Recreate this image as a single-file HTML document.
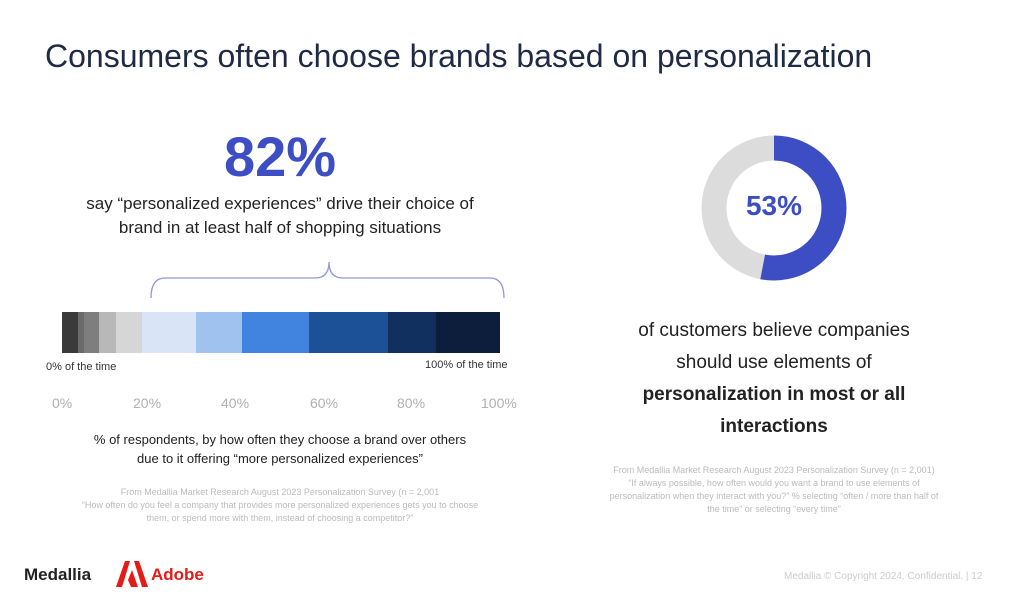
<!DOCTYPE html>
<html><head><meta charset="utf-8"><style>
body{margin:0;width:1024px;height:597px;background:#fff;font-family:"Liberation Sans",sans-serif;position:relative;overflow:hidden}
.a{position:absolute;white-space:nowrap}
.c{text-align:center}
</style></head><body>
<div class="a" style="left:45px;top:38px;font-size:32px;color:#1f2a44">Consumers often choose brands based on personalization</div>
<div class="a c" style="left:180px;width:200px;top:124px;font-size:56px;font-weight:bold;color:#3d4dc4">82%</div>
<div class="a c" style="left:60px;width:440px;top:192px;font-size:17px;line-height:24px;color:#222">say “personalized experiences” drive their choice of<br>brand in at least half of shopping situations</div>
<svg class="a" style="left:0;top:0" width="1024" height="597">
<path d="M151 298 Q151 278 165 278 L315 278 Q329 278 329 262 Q329 278 343 278 L490 278 Q504 278 504 298" fill="none" stroke="#8f96e0" stroke-width="1.3"/>
<g stroke="none">
<rect x="62" y="312" width="16" height="41" fill="#3a3a3a"/>
<rect x="78" y="312" width="6" height="41" fill="#6a6a6a"/>
<rect x="84" y="312" width="15" height="41" fill="#7e7e7e"/>
<rect x="99" y="312" width="17" height="41" fill="#b8b8b8"/>
<rect x="116" y="312" width="26" height="41" fill="#d6d6d6"/>
<rect x="142" y="312" width="54" height="41" fill="#d9e5f7"/>
<rect x="196" y="312" width="46" height="41" fill="#a0c2ef"/>
<rect x="242" y="312" width="67" height="41" fill="#4184df"/>
<rect x="309" y="312" width="79" height="41" fill="#1c5097"/>
<rect x="388" y="312" width="48" height="41" fill="#12305f"/>
<rect x="436" y="312" width="64" height="41" fill="#0c1e3c"/>
</g>
<circle cx="774" cy="208" r="60" fill="none" stroke="#dcdcdc" stroke-width="25"/>
<circle cx="774" cy="208" r="60" fill="none" stroke="#3d4dc4" stroke-width="25" stroke-dasharray="199.8 377" transform="rotate(-90 774 208)"/>
</svg>
<div class="a" style="left:46px;top:361px;font-size:11px;color:#333">0% of the time</div>
<div class="a" style="left:425px;top:359px;font-size:11px;color:#333">100% of the time</div>
<div class="a" style="left:52px;top:395px;font-size:14px;color:#b0b0b0">0%</div>
<div class="a" style="left:133px;top:395px;font-size:14px;color:#b0b0b0">20%</div>
<div class="a" style="left:221px;top:395px;font-size:14px;color:#b0b0b0">40%</div>
<div class="a" style="left:310px;top:395px;font-size:14px;color:#b0b0b0">60%</div>
<div class="a" style="left:397px;top:395px;font-size:14px;color:#b0b0b0">80%</div>
<div class="a" style="left:481px;top:395px;font-size:14px;color:#b0b0b0">100%</div>
<div class="a c" style="left:60px;width:440px;top:430px;font-size:13px;line-height:19px;color:#222">% of respondents, by how often they choose a brand over others<br>due to it offering “more personalized experiences”</div>
<div class="a c" style="left:30px;width:500px;top:486px;font-size:9px;line-height:13px;color:#bbb">From Medallia Market Research August 2023 Personalization Survey (n = 2,001<br>“How often do you feel a company that provides more personalized experiences gets you to choose<br>them, or spend more with them, instead of choosing a competitor?”</div>
<div class="a c" style="left:724px;width:100px;top:190px;font-size:28px;font-weight:bold;color:#3d4dc4">53%</div>
<div class="a c" style="left:574px;width:400px;top:315px;font-size:19px;line-height:32px;color:#222">of customers believe companies<br>should use elements of<br><b>personalization in most or all<br>interactions</b></div>
<div class="a c" style="left:574px;width:400px;top:464px;font-size:9px;line-height:13px;color:#bbb">From Medallia Market Research August 2023 Personalization Survey (n = 2,001)<br>“If always possible, how often would you want a brand to use elements of<br>personalization when they interact with you?”  % selecting “often / more than half of<br>the time” or selecting “every time”</div>
<div class="a" style="left:24px;top:565px;font-size:17px;font-weight:bold;color:#222">Medallia</div>
<svg class="a" style="left:116px;top:561px" width="32" height="26"><polygon points="0,26 9,0 14,0 6,26" fill="#e41b17"/><polygon points="18,0 23,0 32,26 26,26" fill="#e41b17"/><polygon points="16,9 22,26 15,26 12,19" fill="#e41b17"/></svg>
<div class="a" style="left:151px;top:565px;font-size:17px;font-weight:bold;color:#e41b17">Adobe</div>
<div class="a" style="left:784px;top:571px;font-size:10px;color:#ccc">Medallia © Copyright 2024. Confidential.  |  12</div>
</body></html>
